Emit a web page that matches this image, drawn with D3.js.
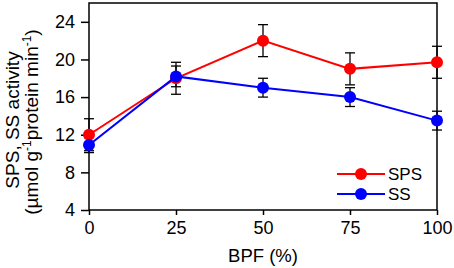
<!DOCTYPE html>
<html>
<head>
<meta charset="utf-8">
<script src="https://cdn.jsdelivr.net/npm/d3@7"></script>
<style>
body{margin:0;background:#fff;}
text{font-family:"Liberation Sans",Arial,sans-serif;fill:#000;}
</style>
</head>
<body>
<svg id="chart" width="454" height="268"></svg>
<script>
// data
var bpf=[0,25,50,75,100];
var spsVals=[12.0,18.0,22.0,19.0,19.7];
var spsErr=[1.7,1.7,1.7,1.7,1.7];
var ssVals=[10.9,18.2,17.0,16.0,13.5];
var ssErr=[0.8,1.1,1.0,1.0,1.0];
var yTicks=[4,8,12,16,20,24];
var xTicks=[0,25,50,75,100];

var series=[
	{name:"SPS",vals:spsVals,err:spsErr,col:"#ff0000"},
	{name:"SS",vals:ssVals,err:ssErr,col:"#0000ff"}
];

var svg=d3.select("#chart");
var plotL=89,plotR=437,plotT=3,plotB=210;

var x=d3.scaleLinear().domain([0,100]).range([plotL,plotR]);
var y=d3.scaleLinear().domain([4,26]).range([plotB,plotT]);

// frame
svg.append("rect")
	.attr("x",plotL).attr("y",plotT)
	.attr("width",plotR-plotL).attr("height",plotB-plotT)
	.attr("fill","none").attr("stroke","#000").attr("stroke-width",1.5);

var yAxis=svg.append("g")
	.attr("transform","translate("+plotL+",0)")
	.call(d3.axisLeft(y).tickValues(yTicks).tickSize(8).tickPadding(6));
var xAxis=svg.append("g")
	.attr("transform","translate(0,"+plotB+")")
	.call(d3.axisBottom(x).tickValues(xTicks).tickSize(5).tickPadding(6));

[yAxis,xAxis].forEach(function(a){
	a.select(".domain").remove();
	a.selectAll("line").attr("stroke","#000").attr("stroke-width",1.5);
	a.selectAll("text").attr("font-size",18).attr("font-family","Liberation Sans, Arial, sans-serif");
});

var line=d3.line()
	.x(function(d,i){return x(bpf[i]);})
	.y(function(d){return y(d);});

series.forEach(function(s){
	var g=svg.append("g");
	// error bars
	s.vals.forEach(function(v,i){
		var cx=x(bpf[i]),lo=y(v-s.err[i]),hi=y(v+s.err[i]);
		g.append("line").attr("x1",cx).attr("x2",cx).attr("y1",lo).attr("y2",hi)
			.attr("stroke","#000").attr("stroke-width",1.3);
		[lo,hi].forEach(function(yy){
			g.append("line").attr("x1",cx-5).attr("x2",cx+5).attr("y1",yy).attr("y2",yy)
				.attr("stroke","#000").attr("stroke-width",1.3);
		});
	});
});

series.forEach(function(s){
	svg.append("path")
		.datum(s.vals)
		.attr("d",line)
		.attr("fill","none")
		.attr("stroke",s.col)
		.attr("stroke-width",2);
	svg.selectAll(".pt"+s.name)
		.data(s.vals)
		.enter()
		.append("circle")
		.attr("cx",function(d,i){return x(bpf[i]);})
		.attr("cy",function(d){return y(d);})
		.attr("r",6)
		.attr("fill",s.col);
});

// legend
var leg=svg.append("g");
series.forEach(function(s,i){
	var ly=174+i*20;
	leg.append("line").attr("x1",337).attr("x2",385).attr("y1",ly).attr("y2",ly)
		.attr("stroke",s.col).attr("stroke-width",2);
	leg.append("circle").attr("cx",361).attr("cy",ly).attr("r",6).attr("fill",s.col);
	leg.append("text").attr("x",388).attr("y",ly+6).attr("font-size",17).text(s.name);
});

// axis titles
svg.append("text")
	.attr("x",(plotL+plotR)/2).attr("y",262)
	.attr("text-anchor","middle").attr("font-size",18.5)
	.text("BPF (%)");

var yt=svg.append("text")
	.attr("transform","translate(19,120) rotate(-90)")
	.attr("text-anchor","middle").attr("font-size",19)
	.text("SPS, SS activity");

var yt2=svg.append("text")
	.attr("transform","translate(38,122) rotate(-90)")
	.attr("text-anchor","middle").attr("font-size",19);
yt2.append("tspan").text("(µmol g");
yt2.append("tspan").attr("font-size",12).attr("dy",-7).text("-1");
yt2.append("tspan").attr("dy",7).text("protein min");
yt2.append("tspan").attr("font-size",12).attr("dy",-7).text("-1");
yt2.append("tspan").attr("dy",7).text(")");
</script>
</body>
</html>
